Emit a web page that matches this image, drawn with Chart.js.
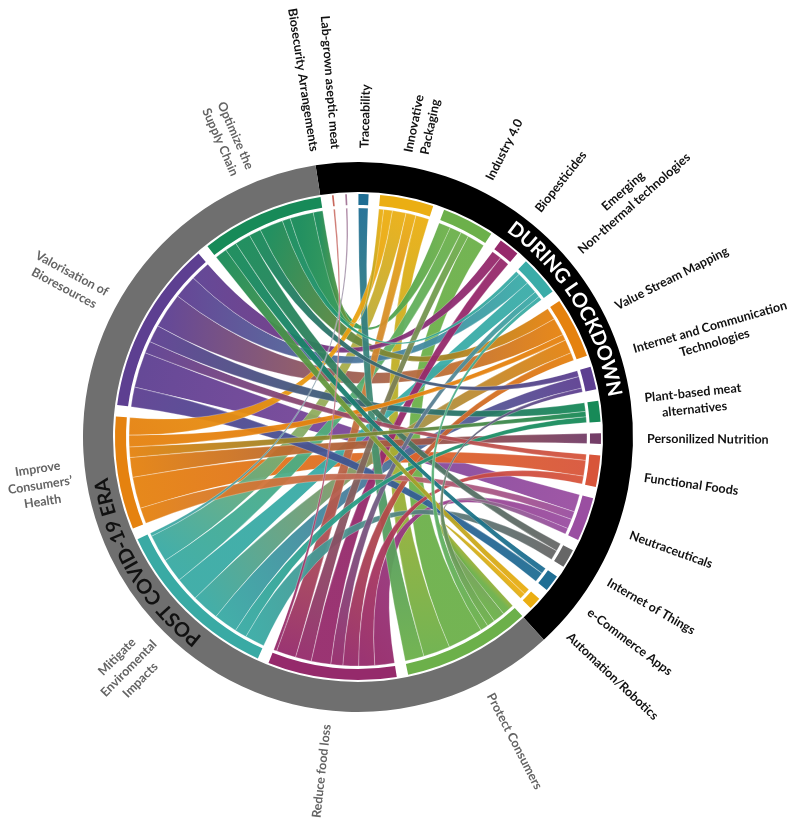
<!DOCTYPE html>
<html>
<head>
<meta charset="utf-8">
<script src="https://cdn.jsdelivr.net/npm/chart.js@4.4.1/dist/chart.umd.min.js"></script>
<style>
  html, body { margin: 0; padding: 0; background: #fff; }
  canvas { display: block; }
</style>
</head>
<body>
<canvas id="chordChart" width="789" height="820"></canvas>
<script>
// technologies (clockwise from the top) and goals (clockwise from bottom right)
const technologies = [
    'Biosecurity Arrangements', 'Lab-grown aseptic meat', 'Traceability', 'Innovative\nPackaging',
    'Industry 4.0', 'Biopesticides', 'Emerging\nNon-thermal technologies', 'Value Stream Mapping',
    'Internet and Communication\nTechnologies', 'Plant-based meat\nalternatives', 'Personilized Nutrition',
    'Functional Foods', 'Neutraceuticals', 'Internet of Things', 'e-Commerce Apps', 'Automation/Robotics'
]
const goals = [
    'Protect Consumers', 'Reduce food loss', 'Mitigate\nEnviromental\nImpacts',
    'Improve\nConsumers’\nHealth', 'Valorisation of\nBioresources', 'Optimize the\nSupply Chain'
]
const groups = ['DURING LOCKDOWN', 'POST COVID-19 ERA']

// link values, one array per goal, in the order of technologies
const protectConsumers = [0, 0, 2.4, 3.4, 4.5, 0, 1, 0, 1, 0, 0, 0, 1.5, 0, 0, 1.5]
const reduceFoodLoss   = [0.4, 0, 0, 2.5, 2, 2.5, 1.5, 2, 0, 0, 0, 2, 2.5, 0, 0, 0]
const mitigateImpacts  = [0, 0.4, 0, 3.5, 3, 0, 3, 3.5, 3, 1.5, 0, 0, 0, 2.5, 0, 0]
const improveHealth    = [0, 0, 0, 2.2, 0, 0, 0, 1.5, 0, 1.3, 2.5, 4, 2, 0, 0, 0]
const valorisation     = [0, 0, 0, 0, 0, 2.5, 3, 4.5, 0, 2.2, 0, 1.5, 4.5, 0, 2.5, 0]
const optimizeChain    = [0, 0, 0, 1.2, 3, 0, 1, 3, 1.5, 0, 0, 0, 0, 2, 1.5, 1.5]

const goalSeries = [protectConsumers, reduceFoodLoss, mitigateImpacts, improveHealth, valorisation, optimizeChain]

// colours
const techColors = ['#c8675c', '#a67a9a', '#1f6e94', '#ebae12', '#6cb04a', '#96296b', '#3aaca8', '#e5820f',
    '#5d3f91', '#178a58', '#743e68', '#d8553a', '#9a4ea1', '#676767', '#1f6e94', '#ebae12']
const goalColors = ['#6cb04a', '#952a6b', '#39aaa4', '#e5820f', '#5d3f91', '#178a58']
const groupColors = ['#000000', '#6f6f6f']

const goalArcScale = 2      // goal ends of the ribbons are drawn twice as wide
const segRotation = -6.15

const techTotals = technologies.map((t, i) => goalSeries.reduce((s, g) => s + g[i], 0))
const goalTotals = goalSeries.map(g => g.reduce((s, v) => s + v, 0))
const techSum = techTotals.reduce((s, v) => s + v, 0)
const goalSum = goalTotals.reduce((s, v) => s + v, 0)
const nodeCount = technologies.length + goals.length
const gapDeg = (360 - techSum - goalSum * goalArcScale) / nodeCount

const nodes = []
technologies.forEach((t, i) => nodes.push({ label: t, color: techColors[i], total: techTotals[i], size: techTotals[i], tech: true }))
goals.forEach((g, i) => nodes.push({ label: g, color: goalColors[i], total: goalTotals[i], size: goalTotals[i] * goalArcScale, tech: false }))

const segData = []
const segColors = []
nodes.forEach(n => {
    segData.push(n.size); segColors.push(n.color)
    segData.push(gapDeg); segColors.push('rgba(0,0,0,0)')
})

const links = []
goalSeries.forEach((series, gi) => {
    series.forEach((v, ti) => {
        if (v > 0) links.push({ g: technologies.length + gi, t: ti, v: v })
    })
})

const groupData = [techSum + (technologies.length + 1) * gapDeg, goalSum * goalArcScale + (goals.length - 1) * gapDeg]

const labelNudge = {
    'Biosecurity Arrangements': -2.8,
    'Lab-grown aseptic meat': -1.7,
    'Internet and Communication\nTechnologies': -2
}
const TAU = Math.PI * 2

function drawArcText(ctx, text, cx, cy, radius, center) {
    const total = ctx.measureText(text).width
    let a = center - total / radius / 2
    for (const ch of text) {
        const w = ctx.measureText(ch).width
        const ang = a + w / 2 / radius
        ctx.save()
        ctx.translate(cx + radius * Math.cos(ang), cy + radius * Math.sin(ang))
        ctx.rotate(ang + Math.PI / 2)
        ctx.fillText(ch, 0, 0)
        ctx.restore()
        a += w / radius
    }
}

function drawRadialLabel(ctx, text, cx, cy, angle, r0, lh) {
    const lines = text.split('\n')
    const maxW = Math.max(...lines.map(l => ctx.measureText(l).width))
    const deg = ((angle * 180 / Math.PI + 90) % 360 + 360) % 360
    const right = deg < 180
    ctx.save()
    ctx.translate(cx, cy)
    ctx.rotate(right ? angle : angle + Math.PI)
    const dist = (r0 + maxW / 2) * (right ? 1 : -1)
    lines.forEach((l, i) => ctx.fillText(l, dist, (i - (lines.length - 1) / 2) * lh))
    ctx.restore()
}

const chordPlugin = {
    id: 'chord',
    afterDatasetsDraw(chart) {
        const ctx = chart.ctx
        const arcs = chart.getDatasetMeta(2).data
        const cx = arcs[0].x, cy = arcs[0].y
        const r = arcs[0].innerRadius - 3

        const spans = nodes.map((n, k) => {
            const a = arcs[2 * k]
            return { start: a.startAngle, end: a.endAngle, mid: (a.startAngle + a.endAngle) / 2 }
        })

        // share every node arc between its ribbons
        const ends = links.map(() => ({}))
        nodes.forEach((n, k) => {
            const mine = []
            links.forEach((l, li) => { if (l.g === k || l.t === k) mine.push(li) })
            const cw = li => {
                const other = links[li].g === k ? links[li].t : links[li].g
                return (((spans[other].mid - spans[k].mid) % TAU) + TAU) % TAU
            }
            mine.sort((a, b) => cw(b) - cw(a))
            const span = spans[k].end - spans[k].start
            let a = spans[k].start
            mine.forEach(li => {
                const w = links[li].v / n.total * span
                if (links[li].g === k) ends[li].g = [a, a + w]
                else ends[li].t = [a, a + w]
                a += w
            })
        })

        const order = links.map((l, i) => i).sort((a, b) => links[b].v - links[a].v)
        ctx.save()
        order.forEach(li => {
            const [a0, a1] = ends[li].g
            const [b0, b1] = ends[li].t
            const gm = (a0 + a1) / 2, tm = (b0 + b1) / 2
            const grad = ctx.createLinearGradient(cx + r * Math.cos(gm), cy + r * Math.sin(gm),
                cx + r * Math.cos(tm), cy + r * Math.sin(tm))
            grad.addColorStop(0, nodes[links[li].g].color)
            grad.addColorStop(1, nodes[links[li].t].color)
            ctx.beginPath()
            ctx.arc(cx, cy, r, a0, a1)
            ctx.quadraticCurveTo(cx, cy, cx + r * Math.cos(b0), cy + r * Math.sin(b0))
            ctx.arc(cx, cy, r, b0, b1)
            ctx.quadraticCurveTo(cx, cy, cx + r * Math.cos(a0), cy + r * Math.sin(a0))
            ctx.closePath()
            ctx.globalAlpha = 0.95
            ctx.fillStyle = grad
            ctx.fill()
            ctx.globalAlpha = 1
            ctx.strokeStyle = 'rgba(255,255,255,0.45)'
            ctx.lineWidth = 0.6
            ctx.stroke()
        })
        ctx.restore()

        // group names on the outer ring
        const gArcs = chart.getDatasetMeta(0).data
        const gr = (gArcs[0].outerRadius + gArcs[0].innerRadius) / 2
        const textShift = [-6, -5]
        ctx.save()
        ctx.font = 'bold 20px Lato, "Noto Sans", sans-serif'
        ctx.textAlign = 'center'
        ctx.textBaseline = 'middle'
        groups.forEach((name, i) => {
            const a = gArcs[i]
            ctx.fillStyle = i === 0 ? '#ffffff' : '#111111'
            drawArcText(ctx, name, cx, cy, gr, (a.startAngle + a.endAngle) / 2 + textShift[i] * Math.PI / 180)
        })
        ctx.restore()

        // node labels
        const labelR = gArcs[0].outerRadius + 14
        ctx.save()
        ctx.textAlign = 'center'
        ctx.textBaseline = 'middle'
        nodes.forEach((n, k) => {
            ctx.font = 'bold 12.5px Lato, "Noto Sans", sans-serif'
            ctx.fillStyle = n.tech ? '#111111' : '#646464'
            const angle = spans[k].mid + (labelNudge[n.label] || 0) * Math.PI / 180
            drawRadialLabel(ctx, n.label, cx, cy, angle, labelR, 16.5)
        })
        ctx.restore()
    }
}

const myChart = new Chart(document.getElementById('chordChart'), {
    type: 'doughnut',
    data: {
        labels: segData.map((v, i) => i),
        datasets: [
            { data: groupData, backgroundColor: groupColors, weight: 30, rotation: segRotation - gapDeg, borderWidth: 0 },
            { data: [1], backgroundColor: ['rgba(0,0,0,0)'], weight: 2, borderWidth: 0 },
            { data: segData, backgroundColor: segColors, weight: 11, rotation: segRotation, borderWidth: 0 }
        ]
    },
    options: {
        responsive: false,
        animation: false,
        events: [],
        cutout: '84.36%',
        layout: { padding: { left: 83, right: 156, top: 162, bottom: 108 } },
        plugins: {
            legend: { display: false },
            tooltip: { enabled: false }
        }
    },
    plugins: [chordPlugin]
})
</script>
</body>
</html>
